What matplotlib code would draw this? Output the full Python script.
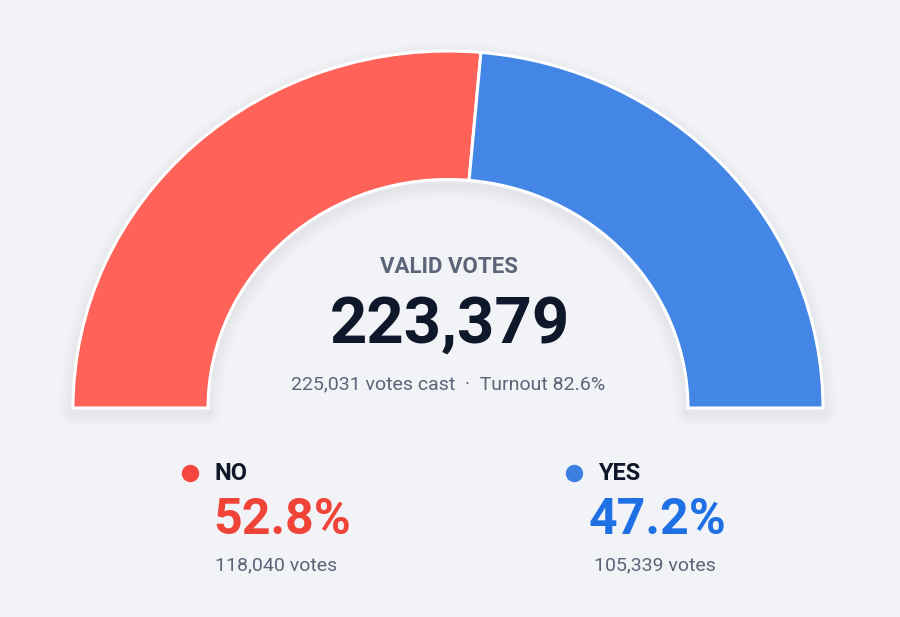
import matplotlib
matplotlib.use("Agg")
import matplotlib.pyplot as plt
from matplotlib.patches import Wedge

# ---- data ----
categories = ["NO", "YES"]
votes = [118040, 105339]
percents = [52.8, 47.2]
valid_votes = 223379
votes_cast = 225031
turnout = 82.6

colors_arc = ["#FF6259", "#4386E6"]
colors_text = ["#F04438", "#1F6FE5"]
colors_dot = ["#F5473F", "#3D7FE0"]
BG = "#F2F3F6"
DARK = "#0F172A"
GRAY = "#5B6478"

FONT = ["Roboto", "DejaVu Sans"]

W, H = 900, 617
fig = plt.figure(figsize=(W / 100, H / 100), dpi=100, facecolor=BG)
ax = fig.add_axes([0, 0, 1, 1])
ax.set_facecolor(BG)

k = 375 / 357.0  # vertical squash of the gauge
cx, cy = 448, (H - 408) * k
R, RW = 375, 135

def fx(x):
    return x / W

def fy(y):
    return 1 - y / H

# soft shadow
for lw in range(2, 30, 2):
    ax.add_patch(Wedge((cx, cy - 5 * k), R, 0, 180, width=RW, facecolor="none",
                       edgecolor="#1F2937", linewidth=lw * 0.72, alpha=0.0045,
                       joinstyle="round"))

fr = [p / 100 / 2 for p in percents]
ax.pie(fr, radius=R, center=(cx, cy), startangle=180, counterclock=False,
       normalize=False, colors=colors_arc,
       wedgeprops=dict(width=RW, edgecolor="white", linewidth=2.2))

ax.set_aspect("auto")
ax.set_xlim(0, W)
ax.set_ylim(0, H * k)
ax.axis("off")

# center texts
fig.text(fx(449), fy(267), "VALID VOTES", ha="center", va="center",
         fontsize=16, fontweight="bold", color=GRAY, family=FONT)
fig.text(fx(450), fy(325), f"{valid_votes:,}", ha="center", va="center",
         fontsize=47, fontweight="bold", color=DARK, family=FONT)
fig.text(fx(448), fy(384), f"{votes_cast:,} votes cast  \u00b7  Turnout {turnout}%",
         ha="center", va="center", fontsize=14, color=GRAY, family=FONT)

# legend blocks
dot_x = [190, 574]
lab_x = [215, 598]
pct_x = [213, 589]
vot_x = [215, 594]
for i, cat in enumerate(categories):
    ax.plot([fx(dot_x[i]) * W], [(H - 473) * k], marker="o", markersize=12.5,
            color=colors_dot[i], markeredgewidth=0)
    fig.text(fx(lab_x[i]), fy(473), cat, ha="left", va="center",
             fontsize=17, fontweight="bold", color=DARK, family=FONT)
    fig.text(fx(pct_x[i]), fy(520), f"{percents[i]}%", ha="left", va="center",
             fontsize=36, fontweight="bold", color=colors_text[i], family=FONT)
    fig.text(fx(vot_x[i]), fy(565), f"{votes[i]:,} votes", ha="left", va="center",
             fontsize=14, color=GRAY, family=FONT)

fig.savefig("out.png", dpi=100, facecolor=BG)
